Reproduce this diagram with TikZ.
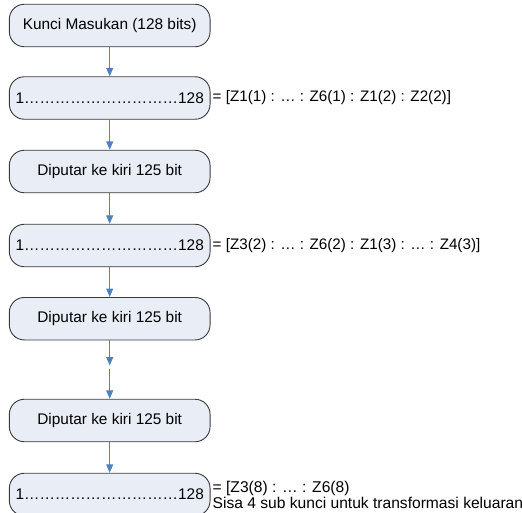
\documentclass[tikz,border=0pt]{standalone}
\usepackage{fontspec}
\setmainfont{Liberation Sans}
\usetikzlibrary{arrows.meta}
\definecolor{boxfill}{HTML}{E9EDF6}
\definecolor{boxline}{HTML}{3A3A3A}
\definecolor{arrowblue}{HTML}{4F81BD}
\tikzset{
  flowbox/.style={draw=boxline, line width=0.9pt, fill=boxfill, rounded corners=15pt,
    minimum width=200.7pt, minimum height=42.5pt, inner sep=0pt,
    font=\fontsize{15.4}{16}\selectfont},
  sidelabel/.style={anchor=west, inner sep=0pt, align=left,
    font=\fontsize{15.2}{16}\selectfont},
  flowarrow/.style={draw=arrowblue, line width=1pt,
    -{Triangle[width=7pt,length=8.5pt]}}
}
\newcommand{\ellx}{…}
\newcommand{\dotrow}{1\ellx\ellx\ellx\ellx\ellx\ellx\ellx\ellx\ellx\ellx 128}
\begin{document}
\begin{tikzpicture}[x=1pt,y=-1pt]
\useasboundingbox (0,0) rectangle (522,512);
\node[flowbox] (b1) at (109.7,25.5) {Kunci Masukan (128 bits)};
\node[flowbox] (b2) at (109.7,98) {\dotrow};
\node[flowbox] (b3) at (109.7,171.5) {Diputar ke kiri 125 bit};
\node[flowbox] (b4) at (109.7,245.5) {\dotrow};
\node[flowbox] (b5) at (109.7,318.7) {Diputar ke kiri 125 bit};
\node[flowbox] (b6) at (109.7,420.5) {Diputar ke kiri 125 bit};
\node[flowbox] (b7) at (109.7,494.5) {\dotrow};
\node[sidelabel] (l2) at (212.5,98) {= [Z1(1) : … : Z6(1) : Z1(2) : Z2(2)]};
\node[sidelabel] (l4) at (212.5,245.5) {= [Z3(2) : … : Z6(2) : Z1(3) : … : Z4(3)]};
\node[sidelabel, font=\fontsize{15.6}{16}\selectfont] (l7) at (212.5,494.7) {= [Z3(8) : … : Z6(8)\\Sisa 4 sub kunci untuk transformasi keluaran};
\coordinate (gapA) at (109.7,365.5);
\coordinate (gapB) at (109.7,369);
\draw[flowarrow] (b1) -- (b2);
\draw[flowarrow] (b2) -- (b3);
\draw[flowarrow] (b3) -- (b4);
\draw[flowarrow] (b4) -- (b5);
\draw[flowarrow] (b5) -- (gapA);
\draw[flowarrow] (gapB) -- (b6);
\draw[flowarrow] (b6) -- (b7);
\end{tikzpicture}
\end{document}
